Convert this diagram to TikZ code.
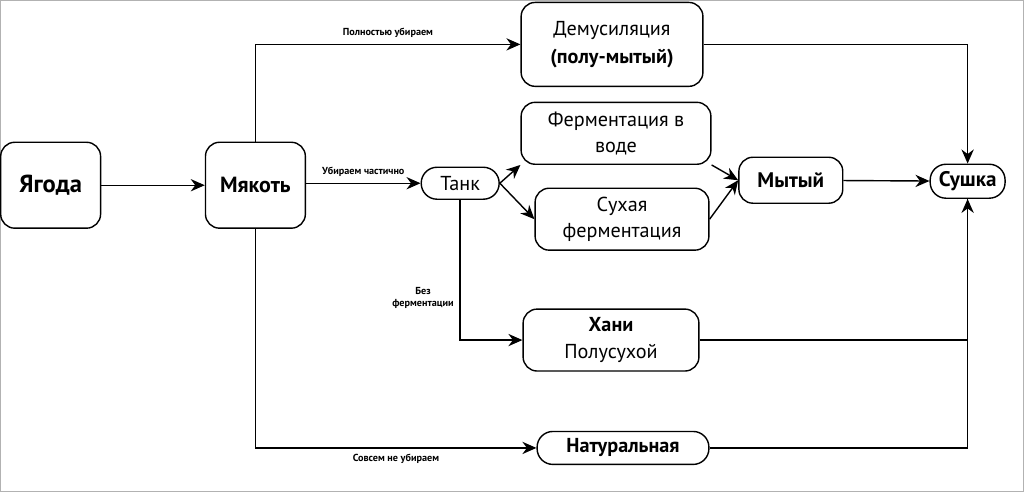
\documentclass[tikz,border=0pt]{standalone}
\usepackage{fontspec}
\setmainfont{PT Sans}
\usetikzlibrary{arrows.meta}
\tikzset{
	box/.style={draw, thick, rounded corners=8pt, align=center, font=\fontsize{11.5}{14}\selectfont, inner sep=0pt},
	pill/.style={box, rounded corners=9pt},
	flow/.style={thick, -{Stealth[length=8pt,width=7pt]}},
	lbl/.style={font=\fontsize{5.8}{7}\selectfont\bfseries, align=center}
}
\begin{document}
\begin{tikzpicture}[x=0.02cm, y=-0.02cm, line width=0.8pt]
	\draw[gray!60, line width=0.5pt] (0,0) rectangle (1024,492);
	\node[box, minimum width=100*0.02cm, minimum height=86*0.02cm, font=\fontsize{14}{16}\selectfont\bfseries] (berry) at (50,185) {Ягода};
	\node[box, minimum width=100*0.02cm, minimum height=86*0.02cm, font=\fontsize{12.5}{15}\selectfont\bfseries] (pulp) at (255,185) {Мякоть};
	\node[box, minimum width=182*0.02cm, minimum height=84*0.02cm] (demu) at (612,44) {Демусиляция\\[2pt]\textbf{(полу-мытый)}};
	\node[box, minimum width=190*0.02cm, minimum height=62*0.02cm] (water) at (616,133) {Ферментация в\\[1pt]воде};
	\node[pill, minimum width=78*0.02cm, minimum height=32*0.02cm] (tank) at (460,183) {Танк};
	\node[box, minimum width=174*0.02cm, minimum height=62*0.02cm] (dry) at (622,219) {Сухая\\[1pt]ферментация};
	\node[box, minimum width=104*0.02cm, minimum height=46*0.02cm, font=\fontsize{12}{14}\selectfont\bfseries] (washed) at (791,180) {Мытый};
	\node[pill, minimum width=75*0.02cm, minimum height=34*0.02cm, font=\fontsize{12}{14}\selectfont\bfseries] (drying) at (968,181) {Сушка};
	\node[box, minimum width=176*0.02cm, minimum height=62*0.02cm] (honey) at (611,340) {\textbf{Хани}\\[1pt]Полусухой};
	\node[pill, minimum width=172*0.02cm, minimum height=33*0.02cm, font=\fontsize{11.5}{14}\selectfont\bfseries] (natural) at (623,448) {Натуральная};
	% connectors
	\draw[flow] (berry) -- (pulp);
	\draw[flow] (pulp.east |- tank) -- node[lbl, above] {Убираем частично} (tank);
	\draw[flow] (pulp.north) |- node[lbl, above, pos=0.75] {Полностью убираем} (demu.west);
	\draw[flow] (pulp.south) |- node[lbl, below, pos=0.75] {Совсем не убираем} (natural.west);
	\draw[flow] (tank.east) -- (water.south west);
	\draw[flow] (tank.east) -- (dry.west);
	\draw[flow] (tank.south) |- node[lbl, left, pos=0.35] {Без\\ферментации} (honey.west);
	\draw[flow] (water.south east) -- (washed.west);
	\draw[flow] (dry.east) -- (washed.west);
	\draw[flow] (washed) -- (drying);
	\draw[flow] (demu.east) -| (drying.north);
	\draw[thick] (honey.east) -| (drying.south);
	\draw[flow] (natural.east) -| (drying.south);
\end{tikzpicture}
\end{document}
